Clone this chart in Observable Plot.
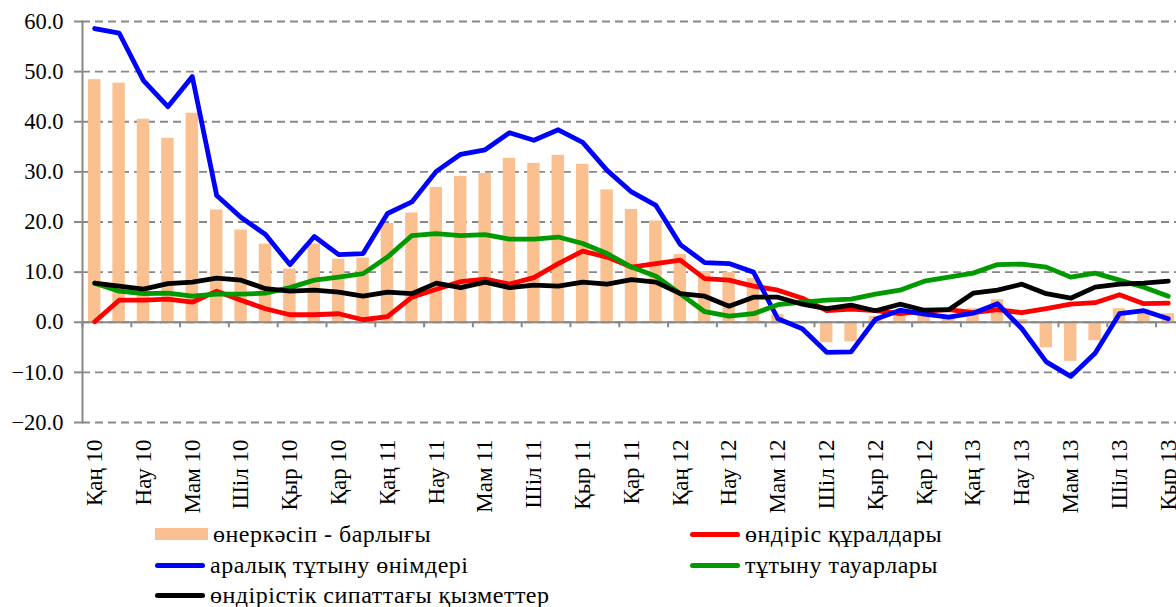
<!DOCTYPE html>
<html>
<head>
<meta charset="utf-8">
<script src="https://cdn.jsdelivr.net/npm/d3@7"></script>
<script src="https://cdn.jsdelivr.net/npm/@observablehq/plot@0.6"></script>
<style>
html,body{margin:0;padding:0;background:#fff;overflow:hidden;width:1176px;height:607px}
#chart{position:relative;width:1176px;height:607px;font-family:"Liberation Serif","Times New Roman",Times,serif;color:#000}
#chart svg{position:absolute;left:0;top:0;overflow:visible}
#chart svg text{font-family:"Liberation Serif","Times New Roman",Times,serif}
.item{position:absolute;display:flex;align-items:center;font-size:24px;letter-spacing:0.5px;line-height:28px;white-space:nowrap}
.sw{display:inline-block;margin-right:5px}
</style>
</head>
<body>
<div id="chart"></div>
<script>
const categories = [
  "Қаң 10","Ақп 10","Нау 10","Сәу 10","Мам 10","Мау 10","Шіл 10","Там 10","Қыр 10","Қаз 10","Қар 10","Жел 10",
  "Қаң 11","Ақп 11","Нау 11","Сәу 11","Мам 11","Мау 11","Шіл 11","Там 11","Қыр 11","Қаз 11","Қар 11","Жел 11",
  "Қаң 12","Ақп 12","Нау 12","Сәу 12","Мам 12","Мау 12","Шіл 12","Там 12","Қыр 12","Қаз 12","Қар 12","Жел 12",
  "Қаң 13","Ақп 13","Нау 13","Сәу 13","Мам 13","Мау 13","Шіл 13","Там 13","Қыр 13"
];
const tickLabels = ["Қаң 10","Нау 10","Мам 10","Шіл 10","Қыр 10","Қар 10","Қаң 11","Нау 11","Мам 11","Шіл 11","Қыр 11","Қар 11",
  "Қаң 12","Нау 12","Мам 12","Шіл 12","Қыр 12","Қар 12","Қаң 13","Нау 13","Мам 13","Шіл 13","Қыр 13"];
const yTicks = [-20,-10,0,10,20,30,40,50,60];

// өнеркәсіп - барлығы (bars)
const industryTotal = [48.4,47.7,40.5,36.7,41.7,22.4,18.4,15.6,10.6,15.6,12.6,12.8,
  19.7,21.8,26.9,29.1,29.7,32.7,31.7,33.3,31.5,26.4,22.5,20.2,
  13.5,10.1,9.9,8.7,1.5,-0.4,-4.1,-3.9,1.2,1.3,1.6,1.2,
  2.7,4.5,0.5,-5.1,-7.8,-3.7,2.7,2.4,1.7];
// өндіріс құралдары
const capitalGoods = [0.1,4.4,4.4,4.6,4.0,6.2,4.4,2.7,1.5,1.5,1.7,0.5,
  1.1,5.0,6.6,8.1,8.6,7.6,8.9,11.7,14.2,13.0,11.0,11.7,
  12.4,8.7,8.4,7.2,6.4,4.8,2.3,2.6,2.3,1.7,2.2,2.5,
  1.9,2.5,1.9,2.7,3.6,3.9,5.5,3.7,3.8];
// аралық тұтыну өнімдері
const intermediate = [58.6,57.7,48.2,43.0,49.0,25.3,20.9,17.5,11.5,17.1,13.5,13.7,
  21.7,24.0,30.1,33.5,34.4,37.8,36.3,38.4,35.9,30.3,26.0,23.3,
  15.5,11.9,11.7,10.0,0.7,-1.3,-6.0,-5.9,0.6,2.4,1.6,1.0,
  1.8,3.7,-1.3,-7.9,-10.8,-6.2,1.7,2.3,0.7];
// тұтыну тауарлары
const consumer = [7.8,6.2,5.7,5.8,5.2,5.6,5.6,5.8,6.9,8.4,9.0,9.7,
  13.0,17.3,17.7,17.3,17.5,16.6,16.6,17.0,15.7,13.7,11.0,9.2,
  5.7,2.1,1.2,1.7,3.5,4.0,4.4,4.6,5.6,6.4,8.2,9.0,
  9.8,11.5,11.6,11.0,9.0,9.8,8.4,7.0,5.2];
// өндірістік сипаттағы қызметтер
const services = [7.8,7.2,6.6,7.7,8.0,8.8,8.4,6.7,6.2,6.4,6.0,5.2,
  6.0,5.7,7.8,6.9,8.0,6.9,7.4,7.2,8.0,7.6,8.5,8.0,
  5.7,5.2,3.2,5.0,5.0,3.6,2.7,3.4,2.3,3.6,2.4,2.5,
  5.8,6.4,7.6,5.7,4.8,7.0,7.6,7.8,8.2];

const seriesNames = ["өнеркәсіп - барлығы","өндіріс құралдары","аралық тұтыну өнімдері","тұтыну тауарлары","өндірістік сипаттағы қызметтер"];
const colors = ["#FAC090","#FF0000","#0000FF","#009A00","#000000"];

const rows = categories.map((c,i)=>({cat:c,total:industryTotal[i],capital:capitalGoods[i],inter:intermediate[i],cons:consumer[i],serv:services[i]}));

const H = 520;
const step = (1180-82)/categories.length;
const serif = "'Liberation Serif','Times New Roman',Times,serif";
const lineOpts = (key,color)=>Plot.lineY(rows,{x:"cat",y:key,stroke:color,strokeWidth:4.8,strokeLinejoin:"round",strokeLinecap:"round"});

const plot = Plot.plot({
  width:1176, height:H,
  marginLeft:82, marginRight:0, marginTop:21, marginBottom:H-422,
  x:{type:"band",domain:categories,range:[82,1180],round:false,paddingInner:0.49,paddingOuter:0.245,axis:null,label:null},
  y:{domain:[-20,60],range:[422,21],axis:null,label:null},
  style:{fontFamily:serif,fontSize:"22px",color:"#000",background:"transparent",overflow:"visible"},
  marks:[
    Plot.gridY(yTicks,{stroke:"#888",strokeOpacity:1,strokeWidth:1.8,strokeDasharray:"8,5"}),
    Plot.barY(rows,{x:"cat",y:"total",fill:colors[0]}),
    Plot.ruleY([0],{stroke:"#888",strokeWidth:2}),
    Plot.ruleX(tickLabels,{x:d=>d,dx:-step/2,y1:0,y2:-1.1,stroke:"#888",strokeWidth:2}),
    Plot.axisY(yTicks,{tickSize:8,tickPadding:11,tickFormat:d3.format(".1f"),stroke:"#888",strokeWidth:2,strokeOpacity:1,fontSize:22.5,fill:"#000",label:null}),
    Plot.frame({anchor:"left",stroke:"#888",strokeWidth:2}),
    Plot.axisX(tickLabels,{tickSize:0,tickPadding:17,tickRotate:-90,fontSize:23,fill:"#000",label:null}),
    lineOpts("capital",colors[1]),
    lineOpts("inter",colors[2]),
    lineOpts("cons",colors[3]),
    lineOpts("serv",colors[4])
  ]
});
const chart = document.getElementById("chart");
chart.appendChild(plot);

// legend
const legendPos = [
  {left:155, top:520},
  {left:690, top:520},
  {left:155, top:551},
  {left:690, top:551},
  {left:155, top:581}
];
seriesNames.forEach((name,i)=>{
  const it = document.createElement("div");
  it.className = "item";
  it.style.left = legendPos[i].left+"px";
  it.style.top = legendPos[i].top+"px";
  const sw = document.createElement("span");
  sw.className = "sw";
  if(i===0){
    sw.style.width="53px"; sw.style.height="12px"; sw.style.background=colors[0];
  } else {
    sw.style.width="50px"; sw.style.height="5px"; sw.style.borderRadius="3px"; sw.style.background=colors[i];
  }
  it.appendChild(sw);
  const t = document.createElement("span");
  t.textContent = name;
  it.appendChild(t);
  chart.appendChild(it);
});
</script>
</body>
</html>
